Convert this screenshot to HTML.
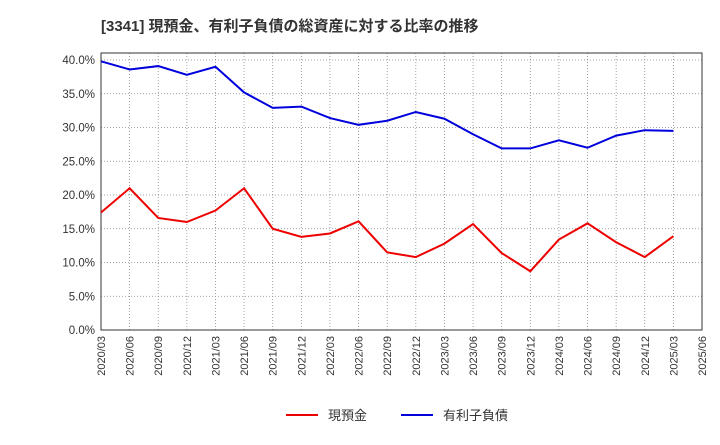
<!DOCTYPE html>
<html><head><meta charset="utf-8"><style>
body{margin:0;background:#fff;font-family:"Liberation Sans","Noto Sans CJK JP",sans-serif;}
</style></head><body>
<svg width="720" height="440" xmlns="http://www.w3.org/2000/svg" font-family="Liberation Sans, Noto Sans CJK JP, sans-serif">
<text x="101" y="31" font-size="15" font-weight="bold" fill="#333">[3341]  現預金、有利子負債の総資産に対する比率の推移</text>
<g id="grid"></g><g id="axes"></g><g id="series"></g>
<g>
<line x1="286" y1="415" x2="318" y2="415" stroke="#e00" stroke-width="2"/>
<text x="328" y="420" font-size="13" fill="#333">現預金</text>
<line x1="401" y1="415" x2="433" y2="415" stroke="#00d" stroke-width="2"/>
<text x="443" y="420" font-size="13" fill="#333">有利子負債</text>
</g>
</svg>
<script>
const categories=["2020/03","2020/06","2020/09","2020/12","2021/03","2021/06","2021/09","2021/12","2022/03","2022/06","2022/09","2022/12","2023/03","2023/06","2023/09","2023/12","2024/03","2024/06","2024/09","2024/12","2025/03","2025/06"];
const cashValues=[17.4,21.0,16.6,16.0,17.7,21.0,15.0,13.8,14.3,16.1,11.5,10.8,12.8,15.7,11.4,8.7,13.4,15.8,13.0,10.8,13.9];
const debtValues=[39.8,38.6,39.1,37.8,39.0,35.2,32.9,33.1,31.4,30.4,31.0,32.3,31.3,29.0,26.9,26.9,28.1,27.0,28.8,29.6,29.5];
const yTicks=[0,5,10,15,20,25,30,35,40];
const NS="http://www.w3.org/2000/svg";
const L=101,R=702,T=53,B=330;
const x=i=>L+(R-L)*i/(categories.length-1);
const y=v=>B-(B-60)*v/40;
const grid=document.getElementById('grid'),axes=document.getElementById('axes'),series=document.getElementById('series');
function mk(tag,attrs,parent){const e=document.createElementNS(NS,tag);for(const k in attrs)e.setAttribute(k,attrs[k]);parent.appendChild(e);return e;}
yTicks.forEach(t=>{
 const g=mk('line',{x1:L,x2:R,y1:y(t),y2:y(t),stroke:'#888','stroke-dasharray':'1,2','stroke-width':0.8},grid);
 
 
 const tx=mk('text',{x:L-6,y:y(t)+4,'font-size':11.5,'text-anchor':'end',fill:'#333'},axes);
 tx.textContent=t.toFixed(1)+'%';
 
 
});
categories.forEach((c,i)=>{
 const g=mk('line',{x1:x(i),x2:x(i),y1:T,y2:B,stroke:'#888','stroke-dasharray':'1,2','stroke-width':0.8},grid);
 
 
 const tx=mk('text',{x:0,y:0,'font-size':11,'text-anchor':'end',fill:'#333',transform:`translate(${x(i)+4},${B+6}) rotate(-90)`},axes);
 tx.textContent=c;
 
 
});
const frame=mk('rect',{x:L,y:T,width:R-L,height:B-T,fill:'none',stroke:'#333','stroke-width':1},axes);


function line(vals,color,name){
 const p=mk('polyline',{points:vals.map((v,i)=>x(i)+','+y(v)).join(' '),fill:'none',stroke:color,'stroke-width':2},series);
 
 
}
line(debtValues,'#00d','debt-line');
line(cashValues,'#e00','cash-line');
</script>
</body></html>
